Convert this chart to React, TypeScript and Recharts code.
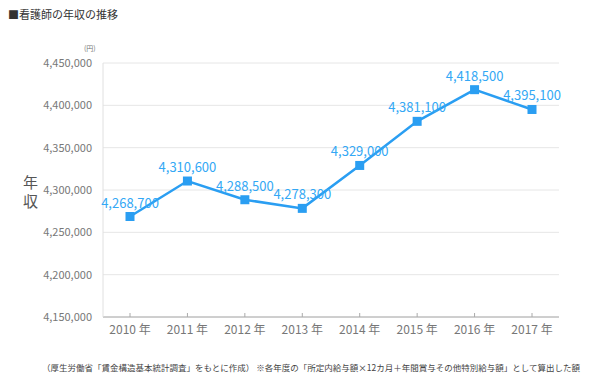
import { LineChart, Line, XAxis, YAxis, CartesianGrid, LabelList } from 'recharts'

const years = ['2010 年', '2011 年', '2012 年', '2013 年', '2014 年', '2015 年', '2016 年', '2017 年']
const income = [4268700, 4310600, 4288500, 4278300, 4329000, 4381100, 4418500, 4395100]
const yTicks = [4150000, 4200000, 4250000, 4300000, 4350000, 4400000, 4450000]

const data = years.map((year, i) => ({ year, income: income[i] }))

const BLUE = '#2a9ef2'
const FONT = '"Noto Sans CJK JP", "Noto Sans", sans-serif'

const fmt = (v: number) => v.toLocaleString('en-US')

interface DotProps {
  cx?: number
  cy?: number
}

const SquareDot = ({ cx, cy }: DotProps) => {
  if (cx == null || cy == null) return null
  return <rect x={cx - 4.5} y={cy - 4.5} width={9} height={9} fill={BLUE} />
}

export default function App() {
  return (
    <div style={{ position: 'absolute', left: 0, top: 0, width: 592, height: 388, background: '#fff', fontFamily: FONT }}>
      <div style={{ position: 'absolute', left: 8, top: 6, fontSize: 11, color: '#333', lineHeight: '16px' }}>
        ■看護師の年収の推移
      </div>
      <div style={{ position: 'absolute', left: 84, top: 43, fontSize: 7, color: '#777' }}>(円)</div>
      <div style={{ position: 'absolute', left: 23, top: 172, fontSize: 15, color: '#555', lineHeight: '19px', width: 16 }}>
        年<br />収
      </div>
      <LineChart
        width={592}
        height={388}
        data={data}
        margin={{ top: 63, right: 33, left: 43, bottom: 41 }}
      >
        <CartesianGrid vertical={false} stroke="#e6e6e6" />
        <XAxis
          dataKey="year"
          height={30}
          stroke="#aaa"
          padding={{ left: 27, right: 27 }}
          tickSize={-4}
          tickMargin={12}
          tick={{ fontSize: 12, fill: '#777', fontFamily: FONT }}
        />
        <YAxis
          width={60}
          domain={[4150000, 4450000]}
          ticks={yTicks}
          tickFormatter={fmt}
          stroke="#e0e0e0"
          tickLine={false}
          tickMargin={5}
          tick={{ fontSize: 11, fill: '#777', fontFamily: FONT }}
        />
        <Line
          dataKey="income"
          stroke={BLUE}
          strokeWidth={2.5}
          dot={<SquareDot />}
          activeDot={false}
          isAnimationActive={false}
        >
          <LabelList
            dataKey="income"
            position="top"
            offset={9}
            formatter={(v: any) => fmt(Number(v))}
            style={{ fontSize: 13, fill: '#33a8f5', fontFamily: FONT }}
          />
        </Line>
      </LineChart>
      <div style={{ position: 'absolute', left: 42, top: 361, fontSize: 8.5, color: '#444', whiteSpace: 'nowrap' }}>
        （厚生労働省「賃金構造基本統計調査」をもとに作成） ※各年度の「所定内給与額×12カ月＋年間賞与その他特別給与額」として算出した額
      </div>
    </div>
  )
}
